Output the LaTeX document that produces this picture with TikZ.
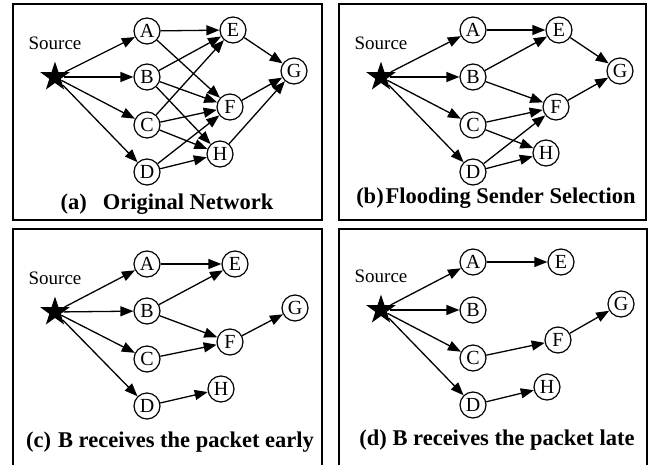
\documentclass[tikz,border=0pt]{standalone}
\usepackage{fontspec}
\setmainfont{Liberation Serif}
\usetikzlibrary{arrows.meta,shapes.geometric}
\begin{document}
\begin{tikzpicture}[x=1pt,y=-1pt,
  nd/.style={circle,draw,line width=1.2pt,minimum size=26pt,inner sep=0pt,font=\fontsize{20}{20}\selectfont},
  src/.style={star,star points=5,star point ratio=2.6,fill=black,minimum size=31pt,inner sep=0pt},
  lbl/.style={font=\fontsize{19}{19}\selectfont,inner sep=0pt},
  ttl/.style={font=\fontsize{22.5}{22.5}\selectfont\bfseries,anchor=base,inner sep=0pt},
  frm/.style={draw,line width=1.4pt},
  ed/.style={-{Triangle[length=13pt,width=10pt]},line width=1.3pt}]
\useasboundingbox (0,0) rectangle (656,464);
\fill[white] (0,0) rectangle (656,464);

% frames
\draw[frm] (13,4) rectangle (322,220);
\draw[frm] (339,4) rectangle (646,220);
\draw[frm] (13,475) -- (13,229) -- (322,229) -- (322,475);
\draw[frm] (339,475) -- (339,229) -- (647,229) -- (647,475);

% ---------- panel (a)
\node[src] (aS) at (55,77) {};
\node[lbl] (aL) at (55,43) {Source};
\node[nd] (aA) at (147,31) {A};
\node[nd] (aB) at (147,77) {B};
\node[nd] (aC) at (147,125) {C};
\node[nd] (aD) at (147,172) {D};
\node[nd] (aE) at (233,30) {E};
\node[nd] (aF) at (230,107) {F};
\node[nd] (aG) at (294,71) {G};
\node[nd] (aH) at (220,154) {H};
\node[ttl] (aT) at (167,209) {(a)\hspace{16pt}Original Network};
\foreach \u/\v in {S/A,S/B,S/C,S/D,A/E,A/F,B/E,B/F,B/H,C/E,C/F,C/H,D/F,D/H,E/G,F/G,H/G}
  \draw[ed] (a\u) -- (a\v);

% ---------- panel (b)
\node[src] (bS) at (381,77) {};
\node[lbl] (bL) at (381,43) {Source};
\node[nd] (bA) at (473,30) {A};
\node[nd] (bB) at (473,77) {B};
\node[nd] (bC) at (473,125) {C};
\node[nd] (bD) at (473,172) {D};
\node[nd] (bE) at (559,30) {E};
\node[nd] (bF) at (556,107) {F};
\node[nd] (bG) at (620,71) {G};
\node[nd] (bH) at (546,153) {H};
\node[ttl] (bT) at (496,203) {(b)\hspace{2pt}Flooding Sender Selection};
\foreach \u/\v in {S/A,S/B,S/C,S/D,A/E,B/E,B/F,C/F,C/H,D/F,D/H,E/G,F/G}
  \draw[ed] (b\u) -- (b\v);

% ---------- panel (c)
\node[src] (cS) at (55,312) {};
\node[lbl] (cL) at (55,278) {Source};
\node[nd] (cA) at (147,264) {A};
\node[nd] (cB) at (147,311) {B};
\node[nd] (cC) at (147,359) {C};
\node[nd] (cD) at (147,406) {D};
\node[nd] (cE) at (235,264) {E};
\node[nd] (cF) at (230,342) {F};
\node[nd] (cG) at (295,308) {G};
\node[nd] (cH) at (221,389) {H};
\node[ttl] (cT) at (170,447) {(c)\hspace{7pt}B receives the packet early};
\foreach \u/\v in {S/A,S/B,S/C,S/D,A/E,B/E,B/F,C/F,F/G,D/H}
  \draw[ed] (c\u) -- (c\v);

% ---------- panel (d)
\node[src] (dS) at (381,310) {};
\node[lbl] (dL) at (381,276) {Source};
\node[nd] (dA) at (473,262) {A};
\node[nd] (dB) at (473,310) {B};
\node[nd] (dC) at (473,358) {C};
\node[nd] (dD) at (473,405) {D};
\node[nd] (dE) at (561,262) {E};
\node[nd] (dF) at (558,340) {F};
\node[nd] (dG) at (621,304) {G};
\node[nd] (dH) at (547,387) {H};
\node[ttl] (dT) at (497,445) {(d) B receives the packet late};
\foreach \u/\v in {S/A,S/B,S/C,S/D,A/E,C/F,F/G,D/H}
  \draw[ed] (d\u) -- (d\v);
\end{tikzpicture}
\end{document}
